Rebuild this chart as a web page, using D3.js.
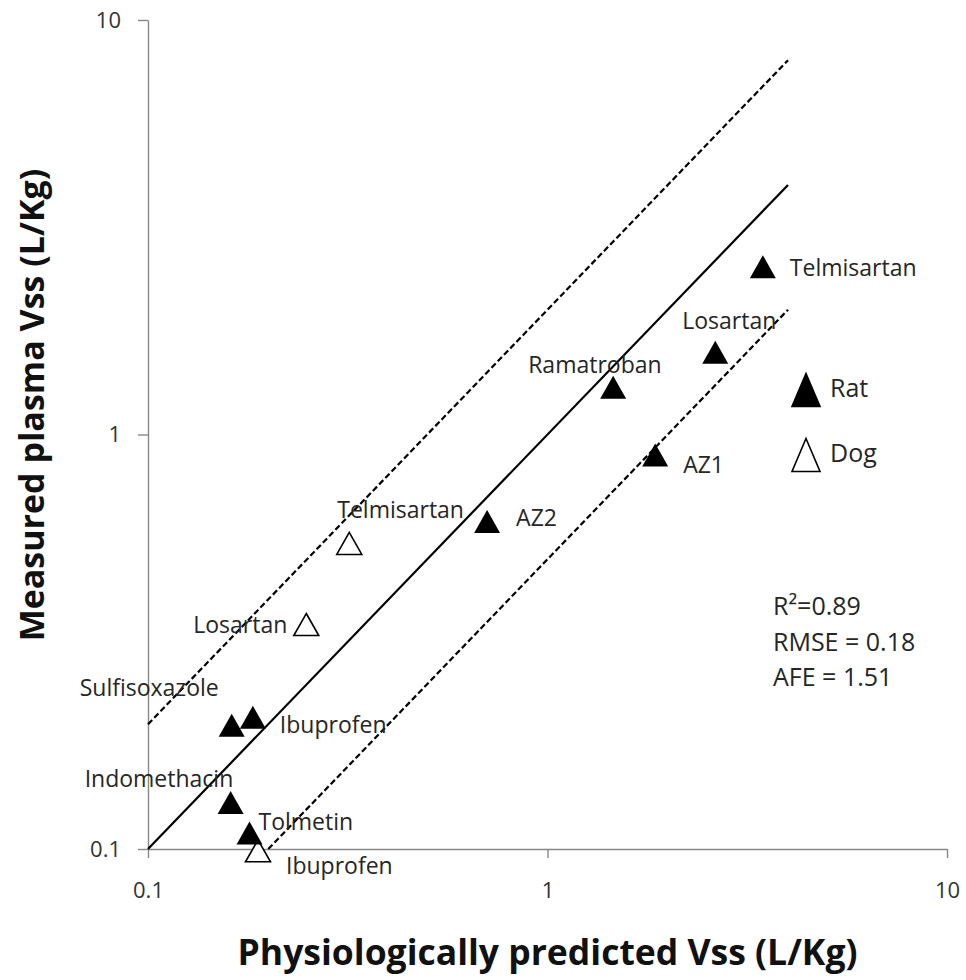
<!DOCTYPE html>
<html lang="en">
<head>
  <meta charset="UTF-8">
  <title>Vss scatter</title>
  <script src="https://d3js.org/d3.v7.min.js"></script>
  <style>
    body { margin: 0; background: #fff; }
    text { font-family: "Open Sans", sans-serif; }
  </style>
</head>
<body>
<div id="chart"></div>
<script>
  // rat compounds (filled triangles)
  const ratNames = ["Telmisartan", "Losartan", "Ramatroban", "AZ1", "AZ2", "Sulfisoxazole", "Ibuprofen", "Indomethacin", "Tolmetin"];
  const ratPredicted = [3.46, 2.63, 1.46, 1.86, 0.706, 0.162, 0.183, 0.161, 0.1795];
  const ratMeasured = [2.54, 1.58, 1.30, 0.892, 0.617, 0.199, 0.208, 0.1295, 0.1093];

  // dog compounds (open triangles)
  const dogNames = ["Telmisartan", "Losartan", "Ibuprofen"];
  const dogPredicted = [0.319, 0.249, 0.1885];
  const dogMeasured = [0.546, 0.348, 0.099];

  // unity line and 2-fold lines
  const foldFactors = [1, 2, 0.5];
  const foldStartX = [0.1, 0.1, 0.2];
  const foldEndX = [4, 4, 4];

  const xTicks = [0.1, 1, 10];
  const yTicks = [0.1, 1, 10];
  const statLines = ["R\u00B2=0.89", "RMSE = 0.18", "AFE = 1.51"];
  const legendNames = ["Rat", "Dog"];

  // label placement (px offsets from the marker)
  const ratLabelPos = [[27, 9, "start"], [-33, -23, "start"], [-85, -14, "start"], [28, 18, "start"], [29, 5, "start"],
                       [-152, -29, "start"], [27, 16, "start"], [-146, -15, "start"], [9, -3, "start"]];
  const dogLabelPos = [[-12, -25, "start"], [-19, 8, "end"], [28, 23, "start"]];

  let width = 966, height = 980;

  let svg = d3.select("#chart").append("svg")
          .attr("width", width)
          .attr("height", height);

  let xScale = d3.scaleLog().domain([0.1, 10]).range([148, 947]);
  let yScale = d3.scaleLog().domain([0.1, 10]).range([849, 20]);

  function tri(cx, cy, w, h) {
    return `M${cx},${cy - h / 2}L${cx + w / 2},${cy + h / 2}L${cx - w / 2},${cy + h / 2}Z`;
  }

  let fmt = d3.format("~g");

  let xAxis = d3.axisBottom(xScale).tickValues(xTicks).tickFormat(fmt).tickSize(9).tickSizeOuter(0).tickPadding(24);
  let yAxis = d3.axisLeft(yScale).tickValues(yTicks).tickFormat(fmt).tickSize(10).tickSizeOuter(0).tickPadding(17);

  function drawAxis(axis, translate) {
    let g = svg.append("g").attr("transform", translate).call(axis);
    g.selectAll("path, line").attr("stroke", "#888").attr("stroke-width", 1.4);
    g.selectAll("text").attr("fill", "#333").style("font-size", "22px").style("font-family", "'Open Sans', sans-serif");
    return g;
  }

  drawAxis(xAxis, `translate(0, ${yScale(0.1)})`);
  drawAxis(yAxis, `translate(${xScale(0.1)}, 0)`);

  // fold lines
  for (let i = 0; i < foldFactors.length; i++) {
    let pts = [foldStartX[i], foldEndX[i]].map(v => [xScale(v), yScale(v * foldFactors[i])]);
    svg.append("path")
            .attr("d", d3.line()(pts))
            .attr("fill", "none")
            .attr("stroke", "#000")
            .attr("stroke-width", 2.2)
            .attr("stroke-dasharray", foldFactors[i] === 1 ? null : "6,3");
  }

  // dog points first so rat markers sit on top
  for (let i = 0; i < dogNames.length; i++) {
    let cx = xScale(dogPredicted[i]), cy = yScale(dogMeasured[i]);
    svg.append("path").attr("d", tri(cx, cy, 25, 22))
            .attr("fill", "#fff").attr("stroke", "#000").attr("stroke-width", 1.6);
    svg.append("text")
            .attr("x", cx + dogLabelPos[i][0]).attr("y", cy + dogLabelPos[i][1])
            .attr("text-anchor", dogLabelPos[i][2])
            .style("font-size", "23px").attr("fill", "#262626")
            .text(dogNames[i]);
  }

  for (let i = 0; i < ratNames.length; i++) {
    let cx = xScale(ratPredicted[i]), cy = yScale(ratMeasured[i]);
    svg.append("path").attr("d", tri(cx, cy, 26, 23)).attr("fill", "#000");
    svg.append("text")
            .attr("x", cx + ratLabelPos[i][0]).attr("y", cy + ratLabelPos[i][1])
            .attr("text-anchor", ratLabelPos[i][2])
            .style("font-size", "23px").attr("fill", "#262626")
            .text(ratNames[i]);
  }

  // legend
  legendNames.forEach((name, i) => {
    let cy = 390 + i * 65;
    svg.append("path").attr("d", tri(806, cy, 28, 33))
            .attr("fill", i === 0 ? "#000" : "#fff")
            .attr("stroke", "#000").attr("stroke-width", 1.6);
    svg.append("text").attr("x", 830).attr("y", cy + 7)
            .style("font-size", "25px").attr("fill", "#262626").text(name);
  });

  // stats
  statLines.forEach((s, i) => {
    svg.append("text").attr("x", 773).attr("y", 615 + i * 35.5)
            .style("font-size", "25px").attr("fill", "#262626").text(s);
  });

  // axis titles
  svg.append("text")
          .attr("x", (xScale(0.1) + xScale(10)) / 2).attr("y", 965)
          .attr("text-anchor", "middle")
          .style("font-size", "35.5px").style("font-weight", "bold").attr("fill", "#111")
          .text("Physiologically predicted Vss (L/Kg)");

  svg.append("text")
          .attr("transform", "translate(44, 405) rotate(-90)")
          .attr("text-anchor", "middle")
          .style("font-size", "34px").style("font-weight", "bold").attr("fill", "#111")
          .text("Measured plasma Vss (L/Kg)");
</script>
</body>
</html>
